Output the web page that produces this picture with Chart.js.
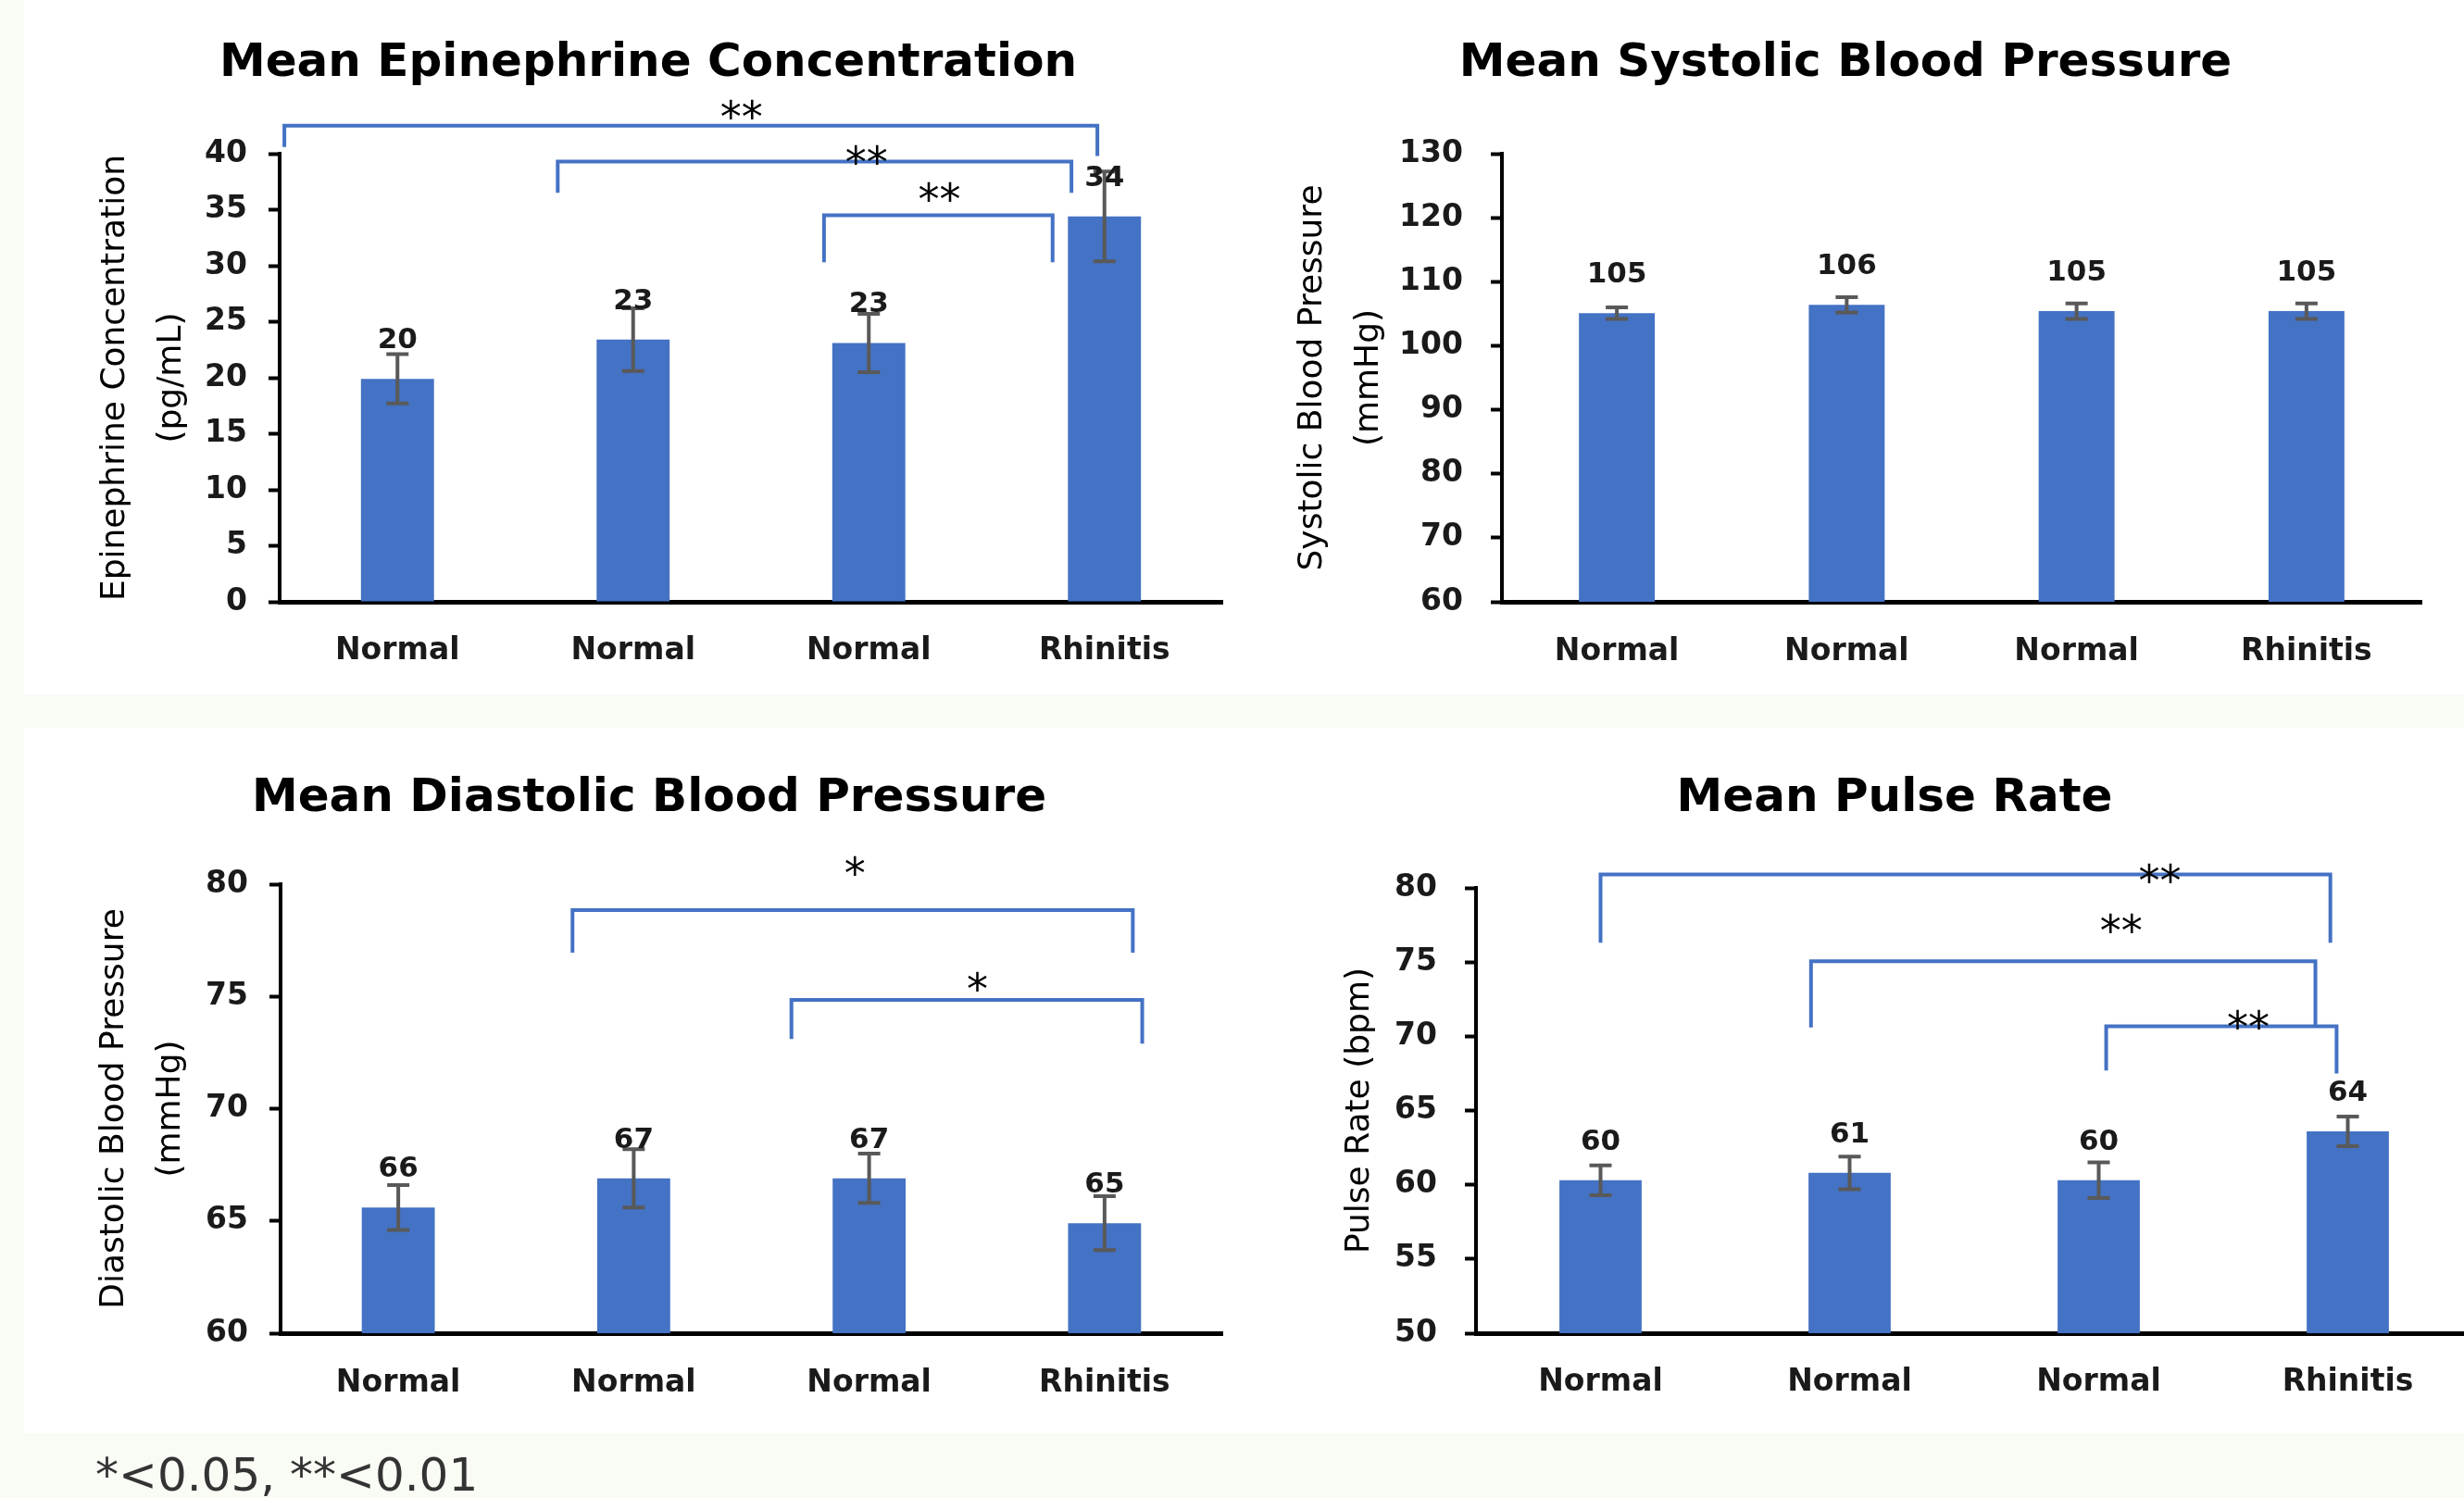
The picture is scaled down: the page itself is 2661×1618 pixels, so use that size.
<!DOCTYPE html>
<html>
<head>
<meta charset="utf-8">
<script src="https://cdn.jsdelivr.net/npm/chart.js@4.4.1/dist/chart.umd.min.js"></script>
<style>
  html, body { margin: 0; padding: 0; }
  body { width: 2661px; height: 1618px; background: #f9fbf5; position: relative; overflow: hidden; font-family: 'DejaVu Sans', sans-serif; }
  .panel { position: absolute; background: #fff; }
  canvas { position: absolute; }
  #note { position: absolute; left: 103px; top: 1568px; font-size: 50px; line-height: 50px; color: #333; white-space: nowrap; }
</style>
</head>
<body>
<div class="panel" style="left:26px; top:0; width:2635px; height:750px;"></div>
<div class="panel" style="left:26px; top:786px; width:2635px; height:762px;"></div>
<canvas id="epi" width="1300" height="750" style="left:80px; top:0;"></canvas>
<canvas id="sys" width="1250" height="750" style="left:1371px; top:0;"></canvas>
<canvas id="dia" width="1300" height="762" style="left:82px; top:786px;"></canvas>
<canvas id="pulse" width="1300" height="762" style="left:1422px; top:786px;"></canvas>
<div id="note">*&lt;0.05, **&lt;0.01</div>
<script>
// Groups on the x axis (same for all four charts)
const categories = ['Normal', 'Normal', 'Normal', 'Rhinitis'];

// Epinephrine (pg/mL)
const epiMeans = [19.9, 23.4, 23.1, 34.4];
const epiErrors = [2.2, 2.8, 2.6, 4.0];
const epiLabels = ['20', '23', '23', '34'];
const epiTicks = [0, 5, 10, 15, 20, 25, 30, 35, 40];

// Systolic blood pressure (mmHg)
const sysMeans = [105.1, 106.4, 105.4, 105.4];
const sysErrors = [0.9, 1.2, 1.2, 1.2];
const sysLabels = ['105', '106', '105', '105'];
const sysTicks = [60, 70, 80, 90, 100, 110, 120, 130];

// Diastolic blood pressure (mmHg)
const diaMeans = [65.6, 66.9, 66.9, 64.9];
const diaErrors = [1.0, 1.3, 1.1, 1.2];
const diaLabels = ['66', '67', '67', '65'];
const diaTicks = [60, 65, 70, 75, 80];

// Pulse rate (bpm)
const pulseMeans = [60.3, 60.8, 60.3, 63.6];
const pulseErrors = [1.0, 1.1, 1.2, 1.0];
const pulseLabels = ['60', '61', '60', '64'];
const pulseTicks = [50, 55, 60, 65, 70, 75, 80];

// Significance brackets, in category index / value units
const epiBrackets = [
  { from: -0.48, to: 2.97, top: 42.5, left: 40.6, right: 39.8, text: '**', at: 1.46, textY: 44.2 },
  { from: 0.68, to: 2.86, top: 39.3, left: 36.5, right: 36.5, text: '**', at: 1.99, textY: 40.2 },
  { from: 1.81, to: 2.78, top: 34.5, left: 30.3, right: 30.3, text: '**', at: 2.30, textY: 36.9 }
];
const sysBrackets = [];
const diaBrackets = [
  { from: 0.74, to: 3.12, top: 78.85, left: 76.95, right: 76.95, text: '*', at: 1.94, textY: 80.95 },
  { from: 1.67, to: 3.16, top: 74.85, left: 73.1, right: 72.9, text: '*', at: 2.46, textY: 75.8 }
];
const pulseBrackets = [
  { from: 0, to: 2.93, top: 80.9, left: 76.3, right: 76.3, text: '**', at: 2.245, textY: 81.2 },
  { from: 0.845, to: 2.87, top: 75.06, left: 70.6, right: 70.6, text: '**', at: 2.09, textY: 77.8 },
  { from: 2.03, to: 2.955, top: 70.68, left: 67.7, right: 67.5, text: '**', at: 2.6, textY: 71.3 }
];

const FONT = 'DejaVu Sans';

// error bars, value labels and brackets
const marks = {
  id: 'marks',
  afterDatasetsDraw(chart, args, o) {
    const ctx = chart.ctx, xs = chart.scales.x, ys = chart.scales.y;
    const bars = chart.getDatasetMeta(0).data;
    ctx.save();
    ctx.strokeStyle = '#595959';
    ctx.lineWidth = 4;
    bars.forEach((bar, i) => {
      const hi = ys.getPixelForValue(o.means[i] + o.errors[i]);
      const lo = ys.getPixelForValue(o.means[i] - o.errors[i]);
      ctx.beginPath();
      ctx.moveTo(bar.x, hi); ctx.lineTo(bar.x, lo);
      ctx.moveTo(bar.x - 12, hi); ctx.lineTo(bar.x + 12, hi);
      ctx.moveTo(bar.x - 12, lo); ctx.lineTo(bar.x + 12, lo);
      ctx.stroke();
    });
    ctx.fillStyle = '#1a1a1a';
    ctx.font = 'bold 31px "' + FONT + '"';
    ctx.textAlign = 'center';
    ctx.textBaseline = 'alphabetic';
    bars.forEach((bar, i) => ctx.fillText(o.labels[i], bar.x, bar.y - 33));

    ctx.strokeStyle = '#4472C4';
    ctx.lineWidth = 4;
    ctx.font = '46px "' + FONT + '"';
    ctx.fillStyle = '#000';
    o.brackets.forEach(b => {
      const x1 = xs.getPixelForValue(b.from), x2 = xs.getPixelForValue(b.to);
      const top = ys.getPixelForValue(b.top);
      ctx.beginPath();
      ctx.moveTo(x1, ys.getPixelForValue(b.left));
      ctx.lineTo(x1, top);
      ctx.lineTo(x2, top);
      ctx.lineTo(x2, ys.getPixelForValue(b.right));
      ctx.stroke();
      ctx.fillText(b.text, xs.getPixelForValue(b.at), ys.getPixelForValue(b.textY) + 27);
    });
    ctx.restore();
  }
};

function makeChart(id, s) {
  new Chart(document.getElementById(id), {
    type: 'bar',
    data: {
      labels: categories,
      datasets: [{
        data: s.means,
        backgroundColor: '#4472C4',
        barPercentage: s.barPct,
        categoryPercentage: 1
      }]
    },
    options: {
      responsive: false,
      animation: false,
      devicePixelRatio: 1,
      layout: { padding: { top: 0, left: 0, bottom: 0, right: s.padRight } },
      plugins: {
        legend: { display: false },
        tooltip: { enabled: false },
        title: {
          display: true,
          text: s.title,
          color: '#000',
          font: { family: FONT, size: 50, weight: 'bold', lineHeight: 1.2 },
          padding: { top: s.titleTop, bottom: s.titleBottom }
        },
        marks: { means: s.means, errors: s.errors, labels: s.labels, brackets: s.brackets }
      },
      scales: {
        x: {
          grid: { display: true, drawOnChartArea: false, drawTicks: false },
          border: { display: true, color: '#000', width: 5 },
          ticks: { padding: s.xPad, maxRotation: 0, color: '#1a1a1a', font: { family: FONT, size: 33, weight: 'bold' } },
          afterFit(scale) { scale.height = s.xHeight; }
        },
        y: {
          min: s.ticks[0],
          max: s.ticks[s.ticks.length - 1],
          ticks: { stepSize: s.ticks[1] - s.ticks[0], padding: s.yPad, color: '#1a1a1a', font: { family: FONT, size: 33, weight: 'bold' } },
          grid: { display: true, drawOnChartArea: false, drawTicks: true, tickLength: 12, tickWidth: 4, tickColor: '#000' },
          border: { display: true, color: '#000', width: 4 },
          title: {
            display: true,
            text: s.yTitle,
            color: '#000',
            font: { family: FONT, size: 36, lineHeight: 1.7 },
            padding: { top: s.yTitlePad, bottom: 0 }
          },
          afterFit(scale) { scale.width = s.yWidth; }
        }
      }
    },
    plugins: [marks]
  });
}

makeChart('epi', {
  title: 'Mean Epinephrine Concentration', yTitle: ['Epinephrine Concentration', '(pg/mL)'],
  means: epiMeans, errors: epiErrors, labels: epiLabels, ticks: epiTicks, brackets: epiBrackets,
  barPct: 0.31, padRight: 60, titleTop: 39, titleBottom: 67, xHeight: 100, xPad: 34,
  yWidth: 222, yPad: 23, yTitlePad: 14
});
makeChart('sys', {
  title: 'Mean Systolic Blood Pressure', yTitle: ['Systolic Blood Pressure', '(mmHg)'],
  means: sysMeans, errors: sysErrors, labels: sysLabels, ticks: sysTicks, brackets: sysBrackets,
  barPct: 0.33, padRight: 6, titleTop: 39, titleBottom: 67, xHeight: 100, xPad: 35,
  yWidth: 251, yPad: 30, yTitlePad: 16
});
makeChart('dia', {
  title: 'Mean Diastolic Blood Pressure', yTitle: ['Diastolic Blood Pressure', '(mmHg)'],
  means: diaMeans, errors: diaErrors, labels: diaLabels, ticks: diaTicks, brackets: diaBrackets,
  barPct: 0.31, padRight: 62, titleTop: 47, titleBottom: 62, xHeight: 108, xPad: 35,
  yWidth: 221, yPad: 23, yTitlePad: 11
});
makeChart('pulse', {
  title: 'Mean Pulse Rate', yTitle: 'Pulse Rate (bpm)',
  means: pulseMeans, errors: pulseErrors, labels: pulseLabels, ticks: pulseTicks, brackets: pulseBrackets,
  barPct: 0.33, padRight: 52, titleTop: 47, titleBottom: 66, xHeight: 108, xPad: 34,
  yWidth: 172, yPad: 30, yTitlePad: 16
});
</script>
</body>
</html>
